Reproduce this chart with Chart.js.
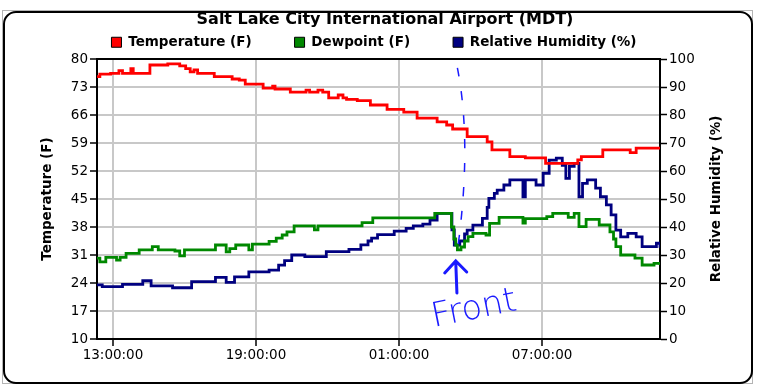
<!DOCTYPE html>
<html>
<head>
<meta charset="utf-8">
<script src="https://cdn.jsdelivr.net/npm/chart.js@4.4.1/dist/chart.umd.min.js"></script>
<style>
  html, body { margin: 0; padding: 0; background: #fff; }
</style>
</head>
<body>
<canvas id="weather-chart" width="763" height="386"></canvas>
<script>
// Время в часах от полуночи первого дня (25 = 01:00 следующего дня)
const chartTitle = 'Salt Lake City International Airport (MDT)';
const xTickHours = [13, 19, 25, 31];
const xTickLabels = ['13:00:00', '19:00:00', '01:00:00', '07:00:00'];
const tempTicks = [10, 17, 24, 31, 38, 45, 52, 59, 66, 73, 80];
const rhTicks = [0, 10, 20, 30, 40, 50, 60, 70, 80, 90, 100];

const tempHours = [12.33, 12.45, 12.9, 13.25, 13.4, 13.75, 13.85, 14.55, 15.3, 15.8, 16.05, 16.24, 16.4, 16.55, 17.25, 18.0, 18.3, 18.55, 19.3, 19.7, 19.8, 20.44, 21.1, 21.25, 21.6, 21.8, 22.05, 22.45, 22.65, 22.8, 23.25, 23.8, 24.5, 25.2, 25.76, 26.6, 27.0, 27.25, 27.86, 28.7, 28.9, 29.65, 30.3, 31.15, 32.5, 32.65, 33.55, 34.7, 34.95, 35.95];
const tempValues = [75.6, 76.2, 76.4, 77.1, 76.4, 77.6, 76.4, 78.5, 78.8, 78.3, 77.6, 76.8, 77.3, 76.4, 75.6, 75.0, 74.7, 73.7, 72.7, 73.2, 72.5, 71.7, 72.2, 71.7, 72.2, 71.7, 70.3, 71.0, 70.3, 69.9, 69.6, 68.5, 67.4, 66.7, 65.2, 64.3, 63.5, 62.5, 60.6, 59.3, 57.3, 55.6, 55.3, 53.9, 54.8, 55.6, 57.3, 56.6, 57.7, 57.7];

const dewHours = [12.33, 12.45, 12.7, 13.15, 13.3, 13.55, 14.1, 14.65, 14.9, 15.6, 15.8, 16.0, 17.3, 17.75, 17.9, 18.15, 18.7, 18.85, 19.55, 19.85, 20.1, 20.3, 20.6, 21.45, 21.6, 23.45, 23.9, 26.5, 27.2, 27.3, 27.38, 27.45, 27.6, 27.75, 27.9, 28.1, 28.65, 28.8, 29.2, 30.2, 30.3, 31.2, 31.45, 32.1, 32.35, 32.55, 32.85, 33.4, 33.85, 34.0, 34.1, 34.3, 34.9, 35.2, 35.7, 35.95];
const dewValues = [30.2, 29.3, 30.4, 29.7, 30.4, 31.4, 32.3, 33.1, 32.3, 32.0, 30.8, 32.3, 33.5, 31.8, 32.6, 33.5, 32.3, 33.7, 34.4, 35.2, 36.0, 36.8, 38.3, 37.3, 38.3, 39.1, 40.3, 41.4, 38.0, 35.0, 33.5, 32.3, 33.0, 34.5, 35.6, 36.4, 36.0, 38.9, 40.4, 39.0, 40.1, 40.6, 41.4, 40.4, 41.4, 38.1, 39.9, 38.5, 36.8, 35.0, 33.1, 31.0, 30.2, 28.5, 28.9, 28.5];

const rhHours = [12.33, 12.55, 13.4, 14.25, 14.6, 15.5, 16.3, 17.3, 17.75, 18.1, 18.7, 19.55, 19.95, 20.2, 20.5, 21.05, 21.95, 22.9, 23.4, 23.7, 23.85, 24.1, 24.8, 25.3, 25.6, 26.0, 26.3, 26.6, 27.22, 27.32, 27.55, 27.75, 27.86, 28.1, 28.5, 28.7, 28.77, 29.0, 29.12, 29.4, 29.65, 30.2, 30.3, 30.75, 31.05, 31.3, 31.6, 31.85, 32.0, 32.15, 32.35, 32.55, 32.7, 32.9, 33.25, 33.45, 33.7, 33.9, 34.1, 34.3, 34.6, 34.95, 35.2, 35.8, 35.95];
const rhValues = [19.3, 18.7, 19.5, 20.8, 19.0, 18.3, 20.5, 22.0, 20.2, 22.2, 24.0, 24.6, 26.4, 28.0, 30.0, 29.4, 31.2, 32.0, 33.6, 35.0, 36.0, 37.3, 38.5, 39.5, 40.4, 41.0, 42.5, 44.9, 39.0, 33.5, 35.0, 37.5, 38.9, 40.7, 43.1, 47.0, 50.2, 52.0, 53.2, 55.0, 56.8, 50.8, 56.8, 55.0, 59.2, 63.9, 64.6, 62.0, 57.4, 61.7, 62.7, 50.8, 55.6, 56.8, 53.9, 50.8, 47.9, 44.3, 38.9, 36.5, 37.7, 36.5, 33.0, 34.2, 32.6];

function toPoints(hours, values) {
    return hours.map((h, i) => ({ x: h, y: values[i] }));
}

const tickFont = { family: 'DejaVu Sans', size: 13.5 };
const boldFont = { family: 'DejaVu Sans', size: 13.5, weight: 'bold' };
const gridGray = '#c8c8c8';

// Рамка, заголовок, подпись правой оси и пометка "Front"
const decorPlugin = {
    id: 'decor',
    beforeDraw(chart) {
        const ctx = chart.ctx;
        ctx.save();
        ctx.fillStyle = '#fff';
        ctx.fillRect(0, 0, chart.width, chart.height);
        ctx.strokeStyle = '#b4b4b4';
        ctx.lineWidth = 1;
        ctx.strokeRect(2.5, 10.5, 750, 373);
        ctx.strokeStyle = '#000';
        ctx.lineWidth = 2;
        ctx.beginPath();
        ctx.roundRect(4, 12, 748, 371, 12);
        ctx.stroke();
        ctx.fillStyle = '#000';
        ctx.font = 'bold 16px "DejaVu Sans"';
        ctx.textAlign = 'center';
        ctx.textBaseline = 'middle';
        ctx.fillText(chartTitle, 385, 20);
        ctx.restore();
    },
    afterDraw(chart) {
        const ctx = chart.ctx;
        const x = chart.scales.x;
        const y = chart.scales.yTemp;
        const area = chart.chartArea;

        ctx.save();
        ctx.fillStyle = '#000';
        ctx.font = 'bold 13.5px "DejaVu Sans"';
        ctx.textAlign = 'center';
        ctx.textBaseline = 'middle';
        ctx.translate(716, (area.top + area.bottom) / 2);
        ctx.rotate(-Math.PI / 2);
        ctx.fillText('Relative Humidity (%)', 0, 0);
        ctx.restore();

        // пунктир фронта
        ctx.save();
        ctx.strokeStyle = '#1a1aff';
        ctx.lineWidth = 1.5;
        ctx.setLineDash([9, 15]);
        ctx.beginPath();
        ctx.moveTo(x.getPixelForValue(27.45), y.getPixelForValue(77.8));
        ctx.quadraticCurveTo(x.getPixelForValue(28.06), y.getPixelForValue(59.1),
                             x.getPixelForValue(27.47), y.getPixelForValue(33));
        ctx.stroke();

        // стрелка
        ctx.setLineDash([]);
        ctx.lineWidth = 3;
        ctx.lineCap = 'round';
        const tipX = x.getPixelForValue(27.38);
        const tipY = y.getPixelForValue(29.5);
        ctx.beginPath();
        ctx.moveTo(x.getPixelForValue(27.43), y.getPixelForValue(21.5));
        ctx.lineTo(tipX, tipY);
        ctx.moveTo(tipX - 11, tipY + 12);
        ctx.lineTo(tipX, tipY);
        ctx.lineTo(tipX + 11, tipY + 11);
        ctx.stroke();

        // надпись
        ctx.fillStyle = '#1a1aff';
        ctx.font = '200 34px "DejaVu Sans"';
        ctx.textAlign = 'center';
        ctx.textBaseline = 'middle';
        ctx.translate(x.getPixelForValue(28.15), y.getPixelForValue(17.3));
        ctx.rotate(-0.2);
        ctx.fillText('Front', 0, 0);
        ctx.restore();
    }
};

const ctx = document.getElementById('weather-chart').getContext('2d');
const weatherChart = new Chart(ctx, {
    type: 'line',
    data: {
        datasets: [{
            label: 'Temperature (F)',
            borderColor: '#ff0000',
            backgroundColor: '#ff0000',
            data: toPoints(tempHours, tempValues),
            yAxisID: 'yTemp'
        }, {
            label: 'Dewpoint (F)',
            borderColor: '#008800',
            backgroundColor: '#008800',
            data: toPoints(dewHours, dewValues),
            yAxisID: 'yTemp'
        }, {
            label: 'Relative Humidity (%)',
            borderColor: '#000080',
            backgroundColor: '#000080',
            data: toPoints(rhHours, rhValues),
            yAxisID: 'yRh'
        }]
    },
    options: {
        responsive: false,
        animation: false,
        events: [],
        devicePixelRatio: 1,
        // отрицательный отступ сверху: легенда с большим padding поднимается к заголовку
        layout: { padding: { top: -7.5, left: 0, right: 15, bottom: 0 } },
        elements: {
            line: { borderWidth: 2.8, stepped: true, fill: false },
            point: { radius: 0 }
        },
        plugins: {
            title: { display: false },
            tooltip: { enabled: false },
            legend: {
                display: true,
                position: 'top',
                labels: {
                    color: '#000',
                    font: boldFont,
                    boxWidth: 10,
                    boxHeight: 10,
                    padding: 43,
                    generateLabels(chart) {
                        const items = Chart.defaults.plugins.legend.labels.generateLabels(chart);
                        items.forEach(item => {
                            item.fillStyle = item.strokeStyle;
                            item.strokeStyle = '#000';
                            item.lineWidth = 1;
                        });
                        return items;
                    }
                }
            }
        },
        scales: {
            x: {
                type: 'linear',
                min: 12.33,
                max: 35.95,
                afterBuildTicks: s => { s.ticks = xTickHours.map(v => ({ value: v })); },
                afterFit: s => { s.height = 47; },
                ticks: {
                    color: '#000',
                    font: tickFont,
                    padding: 1,
                    autoSkip: false,
                    maxRotation: 0,
                    callback: (value, index) => xTickLabels[index]
                },
                grid: { color: gridGray, lineWidth: 2, tickColor: '#000', tickLength: 7, tickWidth: 1.5 },
                border: { color: '#000', width: 2 }
            },
            yTemp: {
                type: 'linear',
                position: 'left',
                min: 10,
                max: 80,
                afterBuildTicks: s => { s.ticks = tempTicks.map(v => ({ value: v })); },
                afterFit: s => { s.width = 97; },
                ticks: { color: '#000', font: tickFont, padding: 2 },
                grid: {
                    color: c => (c.tick && c.tick.value === 80 ? '#000' : gridGray),
                    lineWidth: 2,
                    tickColor: '#000',
                    tickLength: 7,
                    tickWidth: 1.5
                },
                border: { color: '#000', width: 2 },
                title: {
                    display: true,
                    text: 'Temperature (F)',
                    color: '#000',
                    font: boldFont,
                    padding: { top: 39, bottom: 0 }
                }
            },
            yRh: {
                type: 'linear',
                position: 'right',
                min: 0,
                max: 100,
                afterBuildTicks: s => { s.ticks = rhTicks.map(v => ({ value: v })); },
                afterFit: s => { s.width = 88; },
                ticks: { color: '#000', font: tickFont, padding: 2 },
                grid: { drawOnChartArea: false, color: '#000', tickLength: 7, tickWidth: 1.5 },
                border: { color: '#000', width: 2 }
            }
        }
    },
    plugins: [decorPlugin]
});
</script>
</body>
</html>
